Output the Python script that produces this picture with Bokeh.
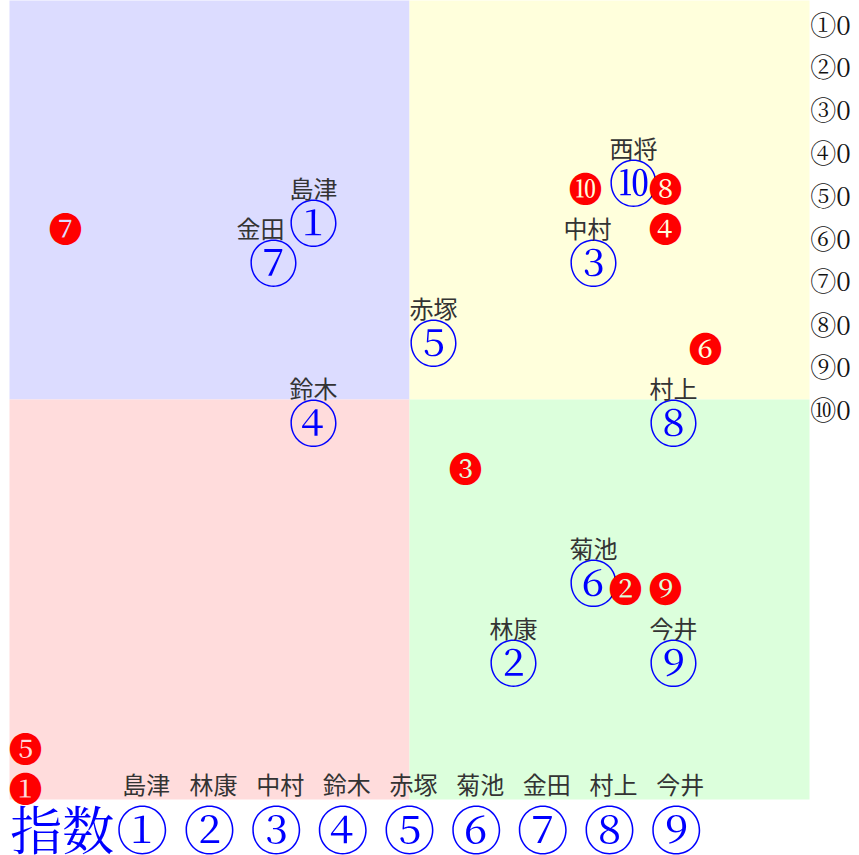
from bokeh.plotting import figure
from bokeh.models import Range1d
from bokeh.core.properties import value
from bokeh.embed import file_html
from bokeh.resources import INLINE

# --- data ---
names = ["島津", "林康", "中村", "鈴木", "赤塚", "菊池", "金田", "村上", "今井", "西将"]
marks = ["①", "②", "③", "④", "⑤", "⑥", "⑦", "⑧", "⑨", "⑩"]
pos_x = [-2.4, 2.6, 4.6, -2.4, 0.6, 4.6, -3.4, 6.6, 6.6, 5.6]
pos_y = [4.5, -6.5, 3.5, -0.5, 1.5, -4.5, 3.5, -0.5, -6.5, 5.5]
name_dx = [0, 0, -6, 0, 0, 0, -13, 0, 0, 0]   # label nudges in px

idx_marks = ["❶", "❷", "❸", "❹", "❺", "❻", "❼", "❽", "❾", "❿"]
idx_x = [-9.6, 5.4, 1.4, 6.4, -9.6, 7.4, -8.6, 6.4, 6.4, 4.4]
idx_y = [-9.7, -4.7, -1.7, 4.3, -8.7, 1.3, 4.3, 5.3, -4.7, 5.3]

side_labels = ["①0", "②0", "③0", "④0", "⑤0", "⑥0", "⑦0", "⑧0", "⑨0", "⑩0"]
side_y = [9.4, 8.35, 7.28, 6.2, 5.13, 4.05, 3.0, 1.9, 0.85, -0.22]

bottom_names = ["島津", "林康", "中村", "鈴木", "赤塚", "菊池", "金田", "村上", "今井"]
bottom_marks = ["①", "②", "③", "④", "⑤", "⑥", "⑦", "⑧", "⑨"]
bottom_x = [-6.68, -5.0, -3.33, -1.67, 0.0, 1.67, 3.33, 5.0, 6.67]

quad_left = [-10, 0, -10, 0]
quad_right = [0, 10, 0, 10]
quad_bottom = [0, 0, -10, -10]
quad_top = [10, 10, 0, 0]
quad_colors = ["#dcdcff", "#ffffdc", "#ffdcdc", "#dcffdc"]

W, H = 859, 855
x0 = -409 / 40
y0 = 399 / 40
p = figure(width=W, height=H, output_backend="svg", toolbar_location=None,
           x_range=Range1d(x0, x0 + W / 40),
           y_range=Range1d(y0 - H / 40, y0),
           min_border=0, outline_line_color=None)
p.axis.visible = False
p.grid.visible = False

p.quad(left=quad_left, right=quad_right, bottom=quad_bottom, top=quad_top,
       fill_color=quad_colors, line_color=None)

serif = value("Noto Serif CJK JP")
cjk = value("Noto Sans CJK JP")

# blue markers with names
p.text(x=pos_x, y=pos_y, text=marks, text_color="#0000ff", text_font=serif,
       text_font_size="50px", text_align="center", text_baseline="middle")
p.text(x=pos_x, y=pos_y, text=names, text_color="#333333", text_font=cjk,
       text_font_size="24px", text_align="center", text_baseline="middle",
       x_offset=name_dx, y_offset=-32)

# red index markers
p.text(x=idx_x, y=idx_y, text=idx_marks, text_color="#ff0000", text_font=serif,
       text_font_size="34px", text_align="center", text_baseline="middle")

# right column
p.text(x=[10.02] * len(side_y), y=side_y, text=side_labels, text_color="#111111",
       text_font=serif, text_font_size="26px", text_align="left", text_baseline="middle")

# bottom rows
p.text(x=[b + 0.1 for b in bottom_x], y=[-9.6] * len(bottom_x), text=bottom_names,
       text_color="#333333", text_font=cjk, text_font_size="24px",
       text_align="center", text_baseline="middle")
p.text(x=bottom_x, y=[-10.7] * len(bottom_x), text=bottom_marks, text_color="#0000ff",
       text_font=serif, text_font_size="52px", text_align="center", text_baseline="middle")
p.text(x=[-8.68], y=[-10.7], text=["指数"], text_color="#0000ff", text_font=serif,
       text_font_size="52px", text_align="center", text_baseline="middle")

open("out.html", "w").write(file_html(p, INLINE))
